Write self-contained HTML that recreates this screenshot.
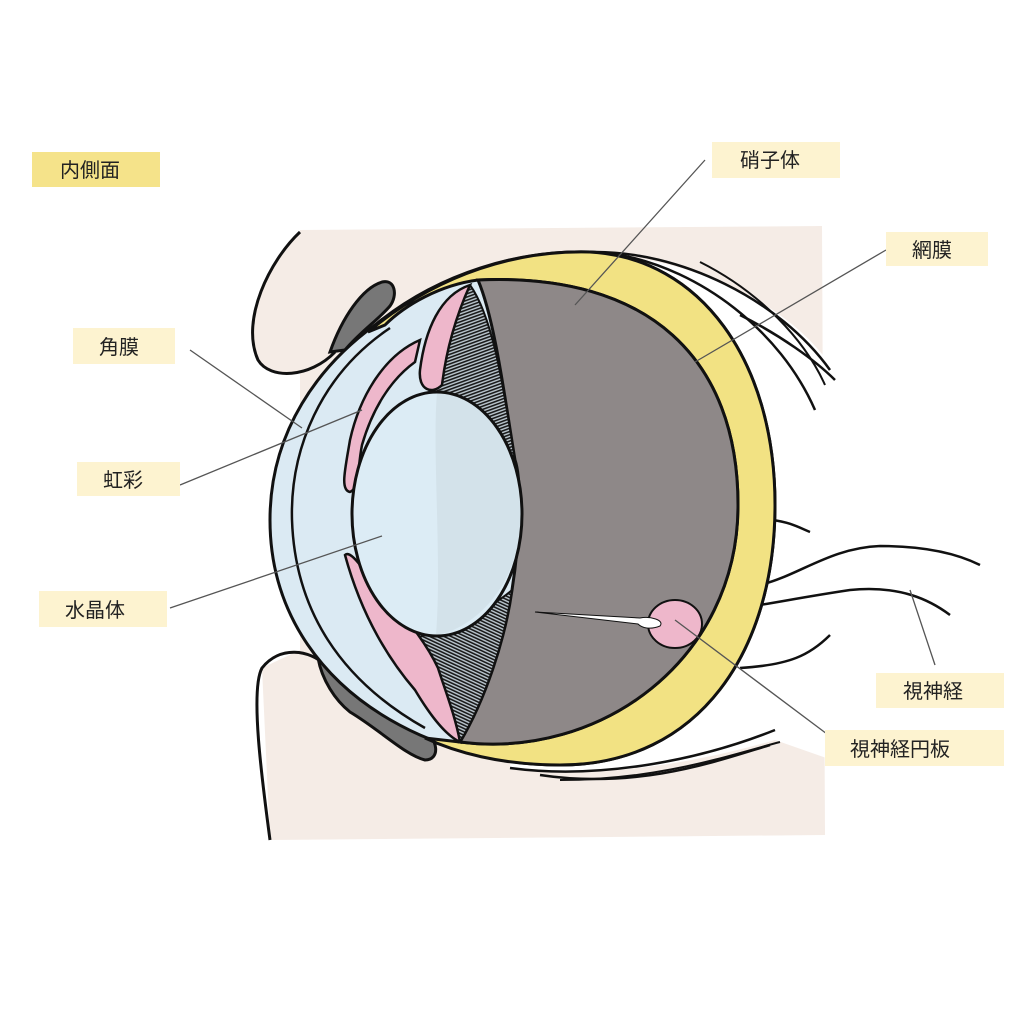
<!DOCTYPE html>
<html><head><meta charset="utf-8"><style>
html,body{margin:0;padding:0;background:#fff;width:1024px;height:1024px;overflow:hidden}
svg{display:block}
text{font-family:"Liberation Sans","Noto Sans CJK JP",sans-serif;font-size:20px;fill:#222}
</style></head><body>
<svg width="1024" height="1024" viewBox="0 0 1024 1024" xmlns="http://www.w3.org/2000/svg">
<defs>
<pattern id="hatch" width="3" height="3" patternUnits="userSpaceOnUse" patternTransform="rotate(70)">
<rect width="3" height="3" fill="#bcc8d0"/><rect width="1.6" height="3" fill="#1a1a1a"/></pattern>
<pattern id="hatch2" width="3" height="3" patternUnits="userSpaceOnUse" patternTransform="rotate(-65)">
<rect width="3" height="3" fill="#bcc8d0"/><rect width="1.6" height="3" fill="#1a1a1a"/></pattern>
</defs>
<!-- beige background -->
<path d="M300,230 L822,226 L825,835 L270,840 L262,668 L300,650 L300,375 Z" fill="#f5ece6"/>
<!-- upper eyelid interior beige -->
<path d="M300,232 C270,260 240,320 258,360 C270,380 310,378 335,352 L340,300 Z" fill="#f5ece6"/>
<!-- white patch right -->
<path d="M560,252 C680,250 790,300 835,372 L832,760 L775,740 C700,762 600,780 510,768 L520,600 Z" fill="#fff"/>
<!-- upper eyelid line -->
<path d="M300,232 C270,260 240,320 258,360 C270,380 310,378 335,352" fill="none" stroke="#111" stroke-width="3"/>
<path d="M330,352 C342,318 362,288 382,282 C395,279 398,295 390,306 C378,320 360,332 345,350 Z" fill="#777" stroke="#111" stroke-width="3"/>
<!-- lower eyelid -->
<path d="M270,840 C262,780 250,690 262,668 C280,645 310,650 325,665" fill="none" stroke="#111" stroke-width="3"/>
<path d="M318,658 C345,690 380,705 420,725 C440,740 440,760 425,760 C405,755 380,730 350,712 C335,700 322,680 318,658 Z" fill="#777" stroke="#111" stroke-width="3"/>
<!-- optic nerve -->
<path d="M760,585 C800,575 830,548 880,546 C930,546 960,555 980,565" fill="none" stroke="#111" stroke-width="2.5"/>
<path d="M760,605 C790,600 810,596 850,590 C900,585 930,600 950,615" fill="none" stroke="#111" stroke-width="2.5"/>
<path d="M740,668 C790,665 810,655 830,635" fill="none" stroke="#111" stroke-width="2.5"/>
<path d="M772,520 C790,522 800,528 810,532" fill="none" stroke="#111" stroke-width="2.5"/>
<!-- muscle lines right top -->
<path d="M590,252 C680,250 780,300 830,370" fill="none" stroke="#111" stroke-width="2.5"/>
<path d="M620,255 C700,270 780,330 815,410" fill="none" stroke="#111" stroke-width="2.5"/>
<path d="M740,315 C780,335 815,360 835,380" fill="none" stroke="#111" stroke-width="2.5"/>
<path d="M700,262 C760,292 805,340 825,385" fill="none" stroke="#111" stroke-width="2"/>
<!-- muscle lines bottom -->
<path d="M510,768 C600,780 700,760 775,730" fill="none" stroke="#111" stroke-width="2.5"/>
<path d="M540,775 C640,790 720,760 770,745" fill="none" stroke="#111" stroke-width="2.5"/>
<path d="M560,780 C660,780 730,755 780,742" fill="none" stroke="#111" stroke-width="2"/>
<!-- eye body light blue -->
<path d="M375,325 C440,272 520,250 590,252 C700,258 775,360 775,505 C775,650 700,765 560,765 C500,765 455,750 420,735 C320,690 270,610 270,520 C270,430 320,365 375,325 Z" fill="#dbeaf3" stroke="#111" stroke-width="3"/>
<!-- sclera yellow -->
<path d="M368,332 C440,272 520,250 590,252 C700,258 775,360 775,505 C775,650 700,765 560,765 C500,765 455,752 425,738 L460,742 C600,760 738,660 738,505 C738,360 650,272 478,280 C440,285 405,305 385,325 Z" fill="#f2e283" stroke="#111" stroke-width="3"/>
<!-- inner cornea line -->
<path d="M390,328 C320,375 290,450 292,520 C295,610 340,680 425,728" fill="none" stroke="#111" stroke-width="2.5"/>
<!-- gray vitreous -->
<path d="M478,280 C650,272 738,360 738,505 C738,660 600,760 460,742 C485,700 505,640 512,590 C520,540 522,480 515,460 C505,400 495,320 478,280 Z" fill="#8e8888" stroke="#111" stroke-width="3"/>
<!-- ciliary hatch -->
<path d="M470,285 C495,320 505,400 515,460 L510,470 C480,430 450,400 425,385 C430,340 445,300 470,285 Z" fill="url(#hatch)" stroke="#111" stroke-width="2"/>
<path d="M412,640 C450,625 490,610 512,590 C505,640 485,700 460,742 C440,720 420,690 412,640 Z" fill="url(#hatch2)" stroke="#111" stroke-width="2"/>
<!-- iris pink upper -->
<path d="M470,285 C440,295 425,330 420,370 C418,390 432,395 442,385 C445,360 452,325 470,285 Z" fill="#eeb7cb" stroke="#111" stroke-width="2.5"/>
<path d="M420,340 C385,355 360,395 350,440 C345,470 340,490 350,492 C360,488 357,470 362,445 C372,410 390,380 415,362 Z" fill="#eeb7cb" stroke="#111" stroke-width="2.5"/>
<!-- iris pink lower -->
<path d="M345,555 C360,610 385,655 415,690 C430,715 445,735 460,742 C455,715 445,690 438,668 C425,640 400,610 372,580 C360,565 350,550 345,555 Z" fill="#eeb7cb" stroke="#111" stroke-width="2.5"/>
<!-- lens -->
<ellipse cx="437" cy="514" rx="85" ry="122" fill="#dcecf5"/>
<path d="M437,393 C432,450 442,560 436,635 C470,630 520,590 521,514 C521,440 480,395 437,393 Z" fill="#d3e2ea"/>
<ellipse cx="437" cy="514" rx="85" ry="122" fill="none" stroke="#111" stroke-width="3"/>
<!-- optic disc -->
<ellipse cx="675" cy="624" rx="27" ry="24" fill="#eeb7cb" stroke="#111" stroke-width="2"/>
<path d="M535,612 L640,618 C650,616 665,620 660,626 C650,630 642,628 638,624 Z" fill="#fff" stroke="#111" stroke-width="1"/>
<!-- leader lines -->
<g stroke="#555" stroke-width="1.3" fill="none">
<line x1="705" y1="160" x2="575" y2="305"/>
<line x1="886" y1="250" x2="695" y2="362"/>
<line x1="190" y1="350" x2="302" y2="428"/>
<line x1="180" y1="485" x2="362" y2="410"/>
<line x1="170" y1="608" x2="382" y2="536"/>
<line x1="910" y1="590" x2="935" y2="665"/>
<line x1="675" y1="620" x2="835" y2="740"/>
</g>
<!-- labels -->
<rect x="32" y="152" width="128" height="35" fill="#f5e38a"/><text x="60" y="177">内側面</text>
<rect x="712" y="142" width="128" height="36" fill="#fdf3d0"/><text x="740" y="167">硝子体</text>
<rect x="886" y="232" width="102" height="34" fill="#fdf3d0"/><text x="912" y="257">網膜</text>
<rect x="73" y="328" width="102" height="36" fill="#fdf3d0"/><text x="99" y="354">角膜</text>
<rect x="77" y="462" width="103" height="34" fill="#fdf3d0"/><text x="103" y="487">虹彩</text>
<rect x="39" y="591" width="128" height="36" fill="#fdf3d0"/><text x="65" y="617">水晶体</text>
<rect x="876" y="673" width="128" height="35" fill="#fdf3d0"/><text x="903" y="698">視神経</text>
<rect x="825" y="730" width="179" height="36" fill="#fdf3d0"/><text x="850" y="756">視神経円板</text>
</svg>
</body></html>
